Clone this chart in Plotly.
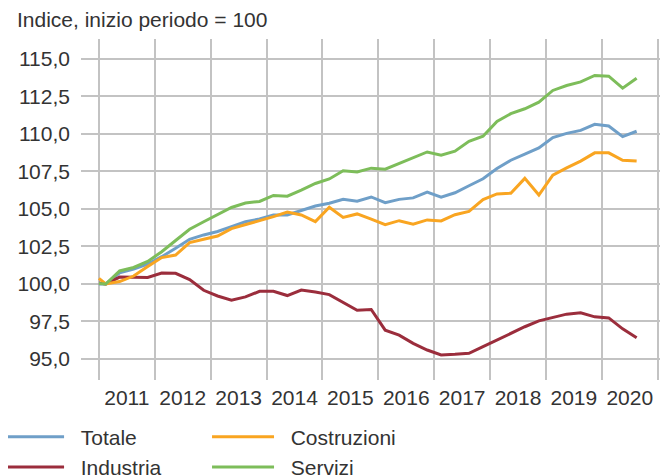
import pandas as pd
import plotly.graph_objects as go

# Quarterly periods (first value = start of period, then quarters 2011Q1..2020Q3)
start_date = "2011-01-01"
quarters = pd.period_range("2011Q1", "2020Q3", freq="Q")

totale = [100.0, 100.0, 100.75, 101.0, 101.33, 101.82, 102.38, 102.98, 103.27, 103.5,
          103.82, 104.15, 104.33, 104.6, 104.6, 104.9, 105.2, 105.38, 105.65, 105.52,
          105.8, 105.42, 105.64, 105.74, 106.12, 105.79, 106.08, 106.55, 107.01, 107.7,
          108.25, 108.65, 109.07, 109.76, 110.04, 110.24, 110.64, 110.53, 109.82, 110.18]
costruzioni = [100.38, 100.0, 100.16, 100.53, 101.16, 101.76, 101.93, 102.76, 102.98, 103.2,
               103.69, 103.96, 104.18, 104.49, 104.8, 104.6, 104.16, 105.11, 104.44, 104.67,
               104.33, 103.96, 104.22, 103.98, 104.27, 104.2, 104.62, 104.84, 105.62, 106.0,
               106.05, 107.04, 105.93, 107.26, 107.74, 108.19, 108.74, 108.74, 108.25, 108.19]
industria = [100.07, 100.0, 100.46, 100.46, 100.44, 100.73, 100.71, 100.29, 99.58, 99.2,
             98.92, 99.14, 99.51, 99.51, 99.23, 99.6, 99.47, 99.29, 98.8, 98.25,
             98.3, 96.92, 96.59, 96.04, 95.6, 95.27, 95.31, 95.38, 95.82, 96.26,
             96.75, 97.15, 97.54, 97.74, 97.99, 98.08, 97.81, 97.74, 97.01, 96.42]
servizi = [100.04, 100.0, 100.87, 101.1, 101.5, 102.15, 102.9, 103.65, 104.15, 104.6,
           105.1, 105.4, 105.5, 105.9, 105.85, 106.25, 106.7, 107.0, 107.55, 107.47,
           107.72, 107.65, 108.03, 108.39, 108.8, 108.58, 108.85, 109.51, 109.85, 110.84,
           111.35, 111.68, 112.12, 112.9, 113.23, 113.47, 113.9, 113.85, 113.05, 113.72]

y_ticks = [95.0, 97.5, 100.0, 102.5, 105.0, 107.5, 110.0, 112.5, 115.0]
y_ticktext = [f"{v:.1f}".replace(".", ",") for v in y_ticks]

dates = [pd.Timestamp(start_date)] + [p.start_time + (p.end_time - p.start_time) / 2 for p in quarters]

# (name, values, colour, legend column)
series = [
    ("Totale", totale, "#6f9fc8", "legend"),
    ("Industria", industria, "#9b2d3c", "legend"),
    ("Costruzioni", costruzioni, "#f9a521", "legend2"),
    ("Servizi", servizi, "#7dbd5a", "legend2"),
]

FONT = "Liberation Sans, Arial, sans-serif"
TXT = "#333333"
GRID = "#c3c3c3"
PAD = "\u00a0\u00a0"  # gap between legend line and label

fig = go.Figure()
for name, vals, col, leg in series:
    fig.add_trace(go.Scatter(x=dates, y=vals, mode="lines", name=PAD + name, legend=leg,
                             line=dict(color=col, width=3)))

legend_style = dict(orientation="v", yanchor="top", xanchor="left", traceorder="normal",
                    font=dict(size=21, color=TXT), itemwidth=62, tracegroupgap=0,
                    bgcolor="rgba(0,0,0,0)")

fig.update_layout(
    width=660, height=467,
    margin=dict(l=73, r=0, t=31, b=95, autoexpand=False),
    paper_bgcolor="white", plot_bgcolor="white",
    font=dict(family=FONT, size=21, color=TXT),
    title=dict(text="Indice, inizio periodo = 100", x=9 / 660, xanchor="left",
               y=1 - 12 / 467, yanchor="middle", xref="container", yref="container",
               font=dict(size=21, color=TXT)),
    showlegend=True,
    legend=dict(x=-0.143, y=-0.107, **legend_style),
    legend2=dict(x=0.2147, y=-0.107, **legend_style),
)
fig.update_xaxes(type="date", range=["2010-09-06", "2021-03-09"], automargin=False,
                 tick0="2011-01-01", dtick="M12", tickformat="%Y", ticklabelmode="period",
                 showgrid=True, gridcolor=GRID, gridwidth=2, zeroline=False, showline=False,
                 ticks="", ticklabelstandoff=3, tickfont=dict(size=21, color=TXT))
fig.update_yaxes(range=[93.6, 116.33], tickvals=y_ticks, ticktext=y_ticktext, automargin=False,
                 showgrid=True, gridcolor=GRID, gridwidth=2, zeroline=False, showline=False,
                 ticks="", ticklabelstandoff=10, tickfont=dict(size=21, color=TXT))

fig.write_html("out.html")
